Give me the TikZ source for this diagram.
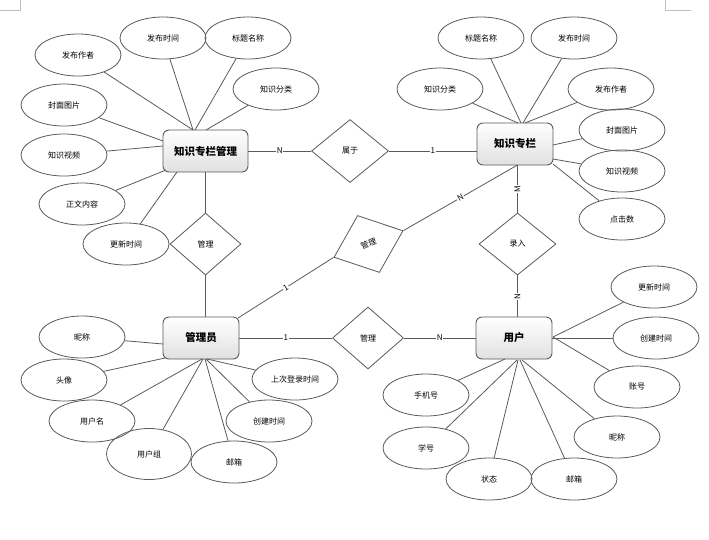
\documentclass[tikz,border=0pt]{standalone}
\usepackage{fontspec}
\newfontfamily\cjk{Noto Sans CJK SC}
\usetikzlibrary{shapes.geometric}
\definecolor{ln}{HTML}{5A5A5A}
\begin{document}
\begin{tikzpicture}[x=1pt,y=-1pt,
 attr/.style={ellipse, draw=ln, line width=0.8pt, minimum width=86pt, minimum height=42pt, inner sep=0pt, font=\cjk\fontsize{8}{9}\selectfont},
 ent/.style={rectangle, rounded corners=6pt, draw=ln, line width=0.9pt, top color=white, bottom color=black!12, minimum width=76pt, minimum height=42pt, inner sep=0pt, font=\cjk\bfseries\fontsize{10.5}{12}\selectfont},
 rel/.style={diamond, draw=ln, line width=0.8pt, fill=white, minimum width=77pt, minimum height=62pt, inner sep=0pt, font=\cjk\fontsize{8}{9}\selectfont},
 conn/.style={draw=ln, line width=0.8pt},
 card/.style={fill=white, inner sep=0.8pt, font=\cjk\fontsize{8}{9}\selectfont}]
\useasboundingbox (0,0) rectangle (709,539);
% page corner marks
\draw[black!25, line width=0.6pt] (0,10) -- (20,10) -- (20,0);
\draw[black!25, line width=0.6pt] (665,0) -- (665,10) -- (691,10);

% entities
\node[ent, minimum width=85pt] (km) at (205.5,151) {知识专栏管理};
\node[ent] (kz) at (515,144) {知识专栏};
\node[ent] (ad) at (201,338) {管理员};
\node[ent] (us) at (514,338) {用户};

% relations
\node[rel, minimum height=63pt] (r1) at (350,151) {属于};
\node[rel, minimum width=71pt] (r2) at (205.5,244) {管理};
\node[rel, minimum width=74pt, minimum height=61pt, rotate=21] (r3) at (368.5,244) {管理};
\node[rel] (r4) at (517.5,244) {录入};
\node[rel, minimum width=71pt] (r5) at (368,338) {管理};

% attributes of 知识专栏管理
\node[attr] (a1) at (78,55) {发布作者};
\node[attr] (a2) at (163,38) {发布时间};
\node[attr] (a3) at (248,38) {标题名称};
\node[attr] (a4) at (276,89) {知识分类};
\node[attr] (a5) at (64,105) {封面图片};
\node[attr] (a6) at (64,155) {知识视频};
\node[attr] (a7) at (82,204) {正文内容};
\node[attr] (a8) at (126,244) {更新时间};

% attributes of 知识专栏
\node[attr] (b1) at (481,38) {标题名称};
\node[attr] (b2) at (574,38) {发布时间};
\node[attr] (b3) at (440,89) {知识分类};
\node[attr] (b4) at (611,89) {发布作者};
\node[attr] (b5) at (622,130) {封面图片};
\node[attr] (b6) at (622,171) {知识视频};
\node[attr] (b7) at (622,219) {点击数};

% attributes of 管理员
\node[attr] (c1) at (82,337) {昵称};
\node[attr] (c2) at (64,380) {头像};
\node[attr] (c3) at (92,421) {用户名};
\node[attr, minimum width=85pt, minimum height=51pt] (c4) at (149,454) {用户组};
\node[attr] (c5) at (234,462) {邮箱};
\node[attr] (c6) at (269,421) {创建时间};
\node[attr] (c7) at (295,379) {上次登录时间};

% attributes of 用户
\node[attr] (u1) at (654,287) {更新时间};
\node[attr] (u2) at (656,338) {创建时间};
\node[attr] (u3) at (637,387) {账号};
\node[attr] (u4) at (617,437) {昵称};
\node[attr] (u5) at (574,479) {邮箱};
\node[attr] (u6) at (489,479) {状态};
\node[attr] (u7) at (426,448) {学号};
\node[attr] (u8) at (426,395) {手机号};

% connection points on entity borders
\coordinate (kmA) at (193,130);
\coordinate (kmB) at (195,130);
\coordinate (kmC) at (206,130);
\coordinate (kmD) at (163,141);
\coordinate (kmE) at (163,146);
\coordinate (kmF) at (166,170);
\coordinate (kmG) at (177,172);
\coordinate (kzA) at (521,123);
\coordinate (kzB) at (523,123);
\coordinate (kzC) at (518,123);
\coordinate (kzD) at (525,123);
\coordinate (kzE) at (553,145);
\coordinate (kzF) at (553,159);
\coordinate (kzG) at (553,164);
\coordinate (kzH) at (517.5,165);
\coordinate (kzW) at (477,151);
\coordinate (adA) at (202,359);
\coordinate (adB) at (203,359);
\coordinate (adC) at (205,359);
\coordinate (adD) at (206,359);
\coordinate (adE) at (207,359);
\coordinate (adF) at (163,344);
\coordinate (adG) at (165,358);
\coordinate (adH) at (238,318);
\coordinate (adT) at (205.5,317);
\coordinate (usA) at (553,337);
\coordinate (usB) at (522,360);
\coordinate (usC) at (520,360);
\coordinate (usD) at (518,360);
\coordinate (usE) at (517,360);
\coordinate (usF) at (505,359);
\coordinate (usT) at (517.5,317);

% attribute connectors
\draw[conn] (a1) -- (kmA);
\draw[conn] (a2) -- (kmA);
\draw[conn] (a3) -- (kmB);
\draw[conn] (a4) -- (kmC);
\draw[conn] (a5) -- (kmD);
\draw[conn] (a6) -- (kmE);
\draw[conn] (a7) -- (kmF);
\draw[conn] (a8) -- (kmG);
\draw[conn] (b1) -- (kzA);
\draw[conn] (b2) -- (kzB);
\draw[conn] (b3) -- (kzC);
\draw[conn] (b4) -- (kzD);
\draw[conn] (b5) -- (kzE);
\draw[conn] (b6) -- (kzF);
\draw[conn] (b7) -- (kzG);
\draw[conn] (c1) -- (adF);
\draw[conn] (c2) -- (adG);
\draw[conn] (c3) -- (adA);
\draw[conn] (c4) -- (adB);
\draw[conn] (c5) -- (adC);
\draw[conn] (c6) -- (adD);
\draw[conn] (c7) -- (adE);
\draw[conn] (u1) -- (usA);
\draw[conn] (u2) -- (us.east);
\draw[conn] (u3) -- (usA);
\draw[conn] (u4) -- (usB);
\draw[conn] (u5) -- (usC);
\draw[conn] (u6) -- (usD);
\draw[conn] (u7) -- (usE);
\draw[conn] (u8) -- (usF);

% relation connectors
\draw[conn] (km.east) -- node[card]{N} (r1.west);
\draw[conn] (r1.east) -- node[card]{1} (kzW);
\draw[conn] (km.south) -- (r2.north);
\draw[conn] (r2.south) -- (adT);
\draw[conn] (adH) -- node[card, sloped]{1} (r3.west);
\draw[conn] (r3.east) -- node[card, sloped]{N} (kzH);
\draw[conn] (kzH) -- node[card, rotate=90]{M} (r4.north);
\draw[conn] (r4.south) -- node[card, rotate=90]{N} (usT);
\draw[conn] (ad.east) -- node[card]{1} (r5.west);
\draw[conn] (r5.east) -- node[card]{N} (us.west);
\end{tikzpicture}
\end{document}
